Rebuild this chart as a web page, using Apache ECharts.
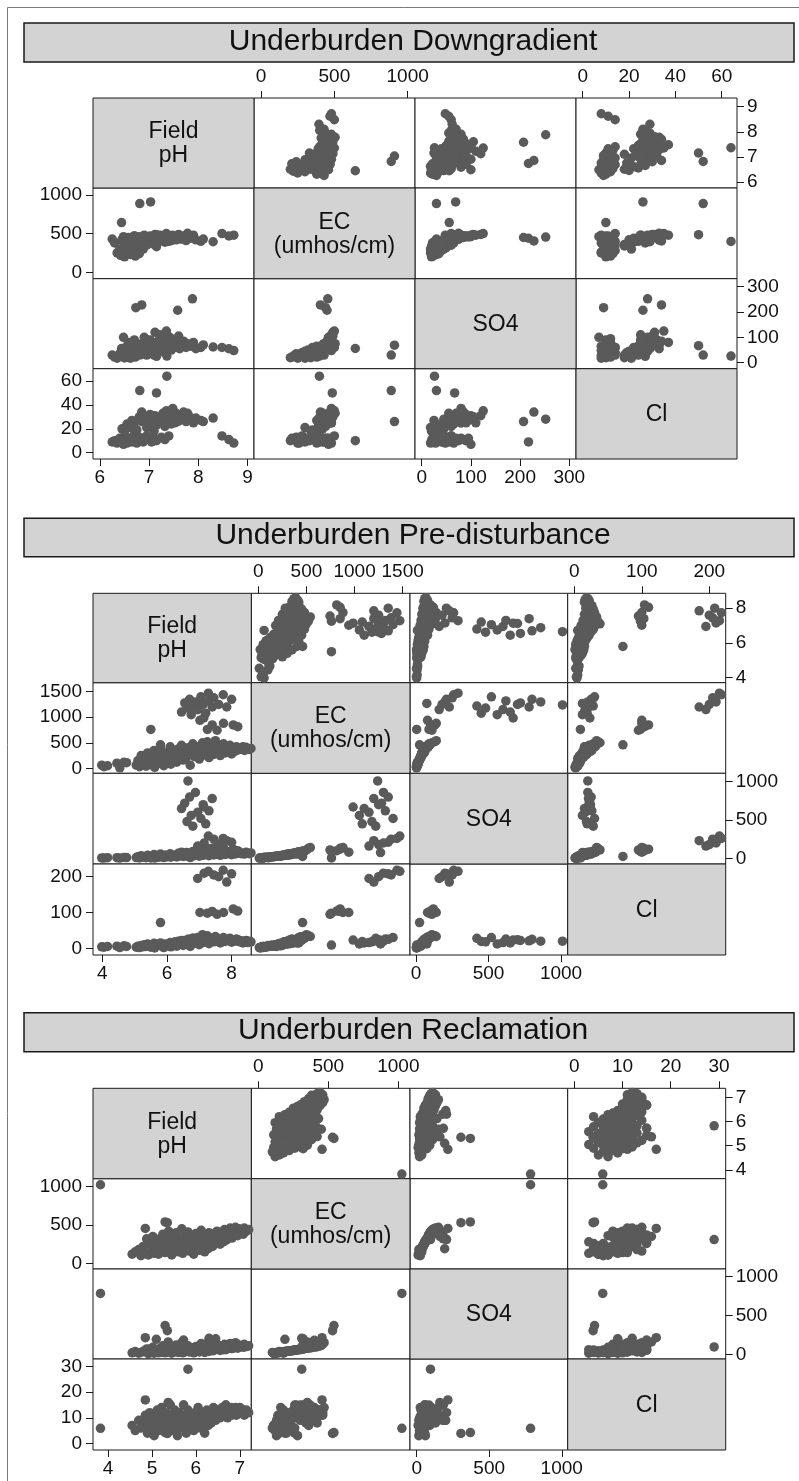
<!DOCTYPE html>
<html>
<head>
<meta charset="utf-8">
<script src="https://cdn.jsdelivr.net/npm/echarts@6/dist/echarts.min.js"></script>
<style>
  html, body { margin: 0; padding: 0; background: #ffffff; }
  #chart { width: 799px; height: 1481px; }
</style>
</head>
<body>
<div id="chart"></div>
<script>
// Variable names shown on the diagonal of every matrix
const variableLabels = ['Field\npH', 'EC\n(umhos/cm)', 'SO4', 'Cl'];

// ---------- Underburden Downgradient ----------
const dgPH = [
  6.25,6.30,6.35,6.40,6.42,6.45,6.50,6.52,6.55,6.58,
  6.62,6.65,6.68,6.70,6.72,6.75,6.78,6.80,6.85,6.88,
  6.92,6.95,7.00,7.05,7.10,7.15,7.25,7.32,7.40,6.48,
  6.45,6.55,6.60,6.65,6.70,6.75,6.80,6.85,6.90,6.95,
  7.00,7.02,7.05,7.08,7.10,7.12,7.15,7.18,7.20,7.22,
  7.25,7.28,7.30,7.32,7.35,7.38,7.40,7.42,7.45,7.48,
  7.50,7.52,7.55,7.60,7.62,7.65,7.70,7.75,7.80,7.85,
  7.90,7.95,8.05,8.30,6.50,6.62,7.78,8.10,7.36,6.81,
  7.15,7.03,6.44,7.88,6.85,6.73,7.58,8.72,8.62,8.48
];
const dgEC = [
  430,380,250,300,220,420,200,350,260,450,
  230,400,280,470,210,380,320,240,430,300,
  460,350,420,380,440,330,410,450,400,460,
  420,400,440,380,470,350,460,420,480,390,
  450,470,410,440,360,490,430,460,400,480,
  440,420,460,390,500,450,430,470,410,480,
  440,460,420,490,450,430,470,410,460,440,
  480,420,400,395,340,300,505,430,398,888,
  486,910,643,455,405,440,450,480,470,500
];
const dgSO4 = [
  30,22,18,35,25,45,20,60,28,80,
  30,55,40,90,22,65,50,35,75,45,
  95,30,55,40,70,25,50,85,60,100,
  45,30,60,25,80,40,70,55,100,35,
  65,90,50,75,30,120,60,85,45,110,
  70,55,95,40,125,75,65,100,50,80,
  60,90,70,105,55,75,85,60,70,65,
  80,55,60,62,20,18,75,70,26,30,
  67,69,56,252,228,217,207,48,55,60
];
const dgCl = [
  9,10,8,12,11,9,10,13,8,12,
  11,9,14,10,12,8,11,13,10,9,
  12,14,11,9,12,10,13,11,14,7,
  20,24,22,27,25,19,30,26,28,21,
  24,32,27,29,18,31,23,26,28,25,
  30,33,27,22,35,26,29,31,24,37,
  28,25,33,30,27,29,34,26,31,28,
  25,29,27,29,18,21,33,26,64,52,
  50,26,10,28,34,9,26,8,11,14
];
const dgPHTicks = [6, 7, 8, 9];
const dgECTicks = [0, 500, 1000];
const dgSO4Ticks = [0, 100, 200, 300];
const dgClTicks = [0, 20, 40, 60];

// ---------- Underburden Pre-disturbance ----------
const pdPH = [
  // acidic samples
  3.98,4.05,4.16,4.45,4.54,4.67,4.75,
  // main group
  5.05,5.10,5.15,5.20,5.25,5.30,5.35,5.40,5.45,5.50,
  5.55,5.60,5.62,5.65,5.70,5.75,5.80,5.85,5.90,5.95,
  6.00,6.05,6.10,6.12,6.15,6.20,6.25,6.30,6.35,6.40,
  6.45,6.50,6.55,6.60,6.65,6.70,6.72,6.75,6.80,6.85,
  6.90,6.95,7.00,7.05,7.10,7.12,7.15,7.20,7.25,7.28,
  7.30,7.35,7.40,7.45,7.50,7.55,7.60,7.65,7.70,7.75,
  7.80,7.85,7.90,7.95,8.00,8.05,8.10,8.15,8.20,8.25,
  8.30,8.35,8.40,8.45,8.50,8.55,8.60,
  // chloride near 100
  7.25,7.40,7.55,7.75,8.05,8.19,7.02,
  // chloride near 200
  6.95,7.15,7.28,7.45,7.60,7.74,7.85,8.00,
  // high sulfate
  6.45,6.55,6.62,6.70,6.75,6.80,6.88,6.95,7.05,7.12,
  7.20,7.30,7.40,7.14,6.65,
  // others
  5.50,5.80,6.60
];
const pdEC = [
  60,30,50,100,10,120,110,
  60,150,30,250,90,180,40,300,120,70,
  220,350,20,160,260,100,400,190,50,300,
  140,230,420,80,330,200,270,120,380,240,
  450,160,310,210,400,280,60,350,480,230,
  320,420,180,370,500,260,440,300,520,350,
  210,460,390,270,540,330,430,250,380,480,
  300,410,350,450,280,390,330,420,360,400,
  380,420,350,410,380,370,390,
  760,850,745,880,850,815,940,
  1150,1300,1470,1380,1250,1440,1200,1350,
  1100,1280,1180,1350,1050,1220,1300,1150,1400,1250,
  1080,1320,1200,985,1240,
  760,460,1270
];
const pdSO4 = [
  5,3,8,8,4,12,10,
  10,20,5,35,15,25,8,40,18,12,
  30,50,4,22,38,15,55,28,10,42,
  20,35,60,14,45,30,40,18,65,32,
  80,25,50,30,70,45,10,55,90,35,
  60,75,28,65,110,40,85,55,130,60,
  35,95,70,45,140,55,80,40,65,100,
  50,75,60,90,48,70,55,85,65,75,
  60,70,55,80,65,60,70,
  90,130,110,140,120,100,80,
  160,200,290,250,180,260,230,210,
  650,720,480,800,560,420,860,600,520,700,
  450,620,780,670,1010,
  5,25,75
];
const pdCl = [
  4,3,5,6,2,7,5,
  3,6,2,8,4,10,5,12,7,3,
  9,14,1,6,11,8,15,5,2,12,
  9,7,16,4,13,10,18,6,20,11,
  22,8,15,12,25,17,5,19,28,14,
  21,30,10,24,38,16,32,20,35,26,
  13,29,22,18,33,24,27,15,21,30,
  19,25,23,28,17,22,20,26,24,18,
  21,15,19,22,16,20,18,
  98,103,95,100,110,104,100,
  195,210,215,205,200,218,185,208,
  15,22,18,25,12,28,20,16,30,24,
  19,26,21,23,20,
  9,72,12
];
const pdPHTicks = [4, 6, 8];
const pdECTicks = [0, 500, 1000, 1500];
const pdSO4Ticks = [0, 500, 1000];
const pdClTicks = [0, 100, 200];

// ---------- Underburden Reclamation ----------
const rcPH = [
  4.55,4.62,4.70,4.75,4.80,4.85,4.90,4.92,4.95,5.00,
  5.02,5.05,5.08,5.10,5.12,5.15,5.18,5.20,5.22,5.25,
  5.28,5.30,5.32,5.35,5.38,5.40,5.42,5.45,5.48,5.50,
  5.52,5.55,5.58,5.60,5.62,5.65,5.68,5.70,5.72,5.75,
  5.78,5.80,5.82,5.85,5.88,5.90,5.92,5.95,5.98,6.00,
  6.02,6.05,6.08,6.10,6.12,6.15,6.18,6.20,6.22,6.25,
  6.28,6.30,6.32,6.35,6.38,6.40,6.42,6.45,6.48,6.50,
  6.52,6.55,6.58,6.60,6.62,6.65,6.68,6.70,6.72,6.75,
  6.78,6.80,6.82,6.85,6.88,6.90,6.92,6.95,6.98,7.00,
  7.05,7.08,7.10,7.15,7.20,
  5.72,5.37,5.10,6.30,6.68,4.88,
  3.83,5.35,5.30,4.85,5.82
];
const rcEC = [
  120,150,180,100,220,140,260,110,300,170,
  350,130,240,190,280,120,320,210,160,380,
  250,140,300,200,420,170,260,110,340,230,
  180,400,280,150,320,210,450,130,270,360,
  190,240,410,160,300,220,350,120,280,390,
  200,330,170,260,430,230,310,150,370,250,
  190,400,290,340,220,380,270,320,420,300,
  360,250,400,330,280,440,370,310,420,350,
  460,390,330,440,380,470,410,360,450,400,
  430,380,460,420,440,
  320,350,190,310,300,320,
  1025,530,540,455,310
];
const rcSO4 = [
  20,35,15,25,40,30,55,10,70,25,
  90,15,45,30,60,20,75,40,25,110,
  50,20,65,35,130,30,55,15,80,45,
  30,120,60,25,70,40,150,20,55,90,
  35,50,110,30,65,45,85,20,60,100,
  40,75,30,55,140,45,70,25,95,50,
  35,180,60,80,45,100,55,200,120,65,
  90,50,110,75,60,130,85,70,100,80,
  140,90,75,110,85,150,95,80,120,100,
  110,90,130,100,110,
  184,160,193,206,60,70,
  785,305,370,215,95
];
const rcCl = [
  7,5,9,6,8,11,4,7,12,6,
  9,3,10,8,13,5,11,7,14,9,
  6,10,12,4,8,11,15,7,9,5,
  13,10,3,8,12,6,11,9,15,7,
  4,10,13,6,9,11,8,5,12,10,
  7,14,9,6,11,8,12,4,10,13,
  7,9,11,8,12,14,10,9,12,11,
  13,10,12,14,11,13,15,12,10,13,
  12,14,11,13,12,14,11,13,12,14,
  12,13,11,13,12,
  15,16,9,12,15,10,
  5.9,3.9,4.2,17,29
];
const rcPHTicks = [4, 5, 6, 7];
const rcECTicks = [0, 500, 1000];
const rcSO4Ticks = [0, 500, 1000];
const rcClTicks = [0, 10, 20, 30];

// ---------- layout of the three matrices ----------
const FONT = "'Liberation Sans', Arial, Helvetica, sans-serif";
const INK = '#1a1a1a';
const PANEL_FILL = '#d3d3d3';
const DOT = '#5a5a5a';

const panels = [
  {
    title: 'Underburden Downgradient',
    band: [23, 62], titleY: 41.5,
    cols: [93, 254, 415, 576, 737],
    rows: [98, 188, 278.7, 368.7, 459],
    values: [dgPH, dgEC, dgSO4, dgCl],
    ticks: [dgPHTicks, dgECTicks, dgSO4Ticks, dgClTicks],
    hRange: [[5.86, 9.13], [-48, 1050], [-13.6, 313.6], [-2.9, 66.6]],
    vRange: [[5.75, 9.35], [-83, 1090], [-23.7, 331.6], [-5.3, 70.3]]
  },
  {
    title: 'Underburden Pre-disturbance',
    band: [518.3, 556.7], titleY: 536,
    cols: [93, 251.3, 410, 567.7, 725.7],
    rows: [593.3, 682.7, 773.3, 864, 955],
    values: [pdPH, pdEC, pdSO4, pdCl],
    ticks: [pdPHTicks, pdECTicks, pdSO4Ticks, pdClTicks],
    hRange: [[3.71, 8.61], [-72.8, 1576], [-41, 1046], [-9.8, 224.3]],
    vRange: [[3.71, 8.86], [-98, 1676], [-74, 1110], [-18.7, 235.5]]
  },
  {
    title: 'Underburden Reclamation',
    band: [1012.7, 1051.7], titleY: 1031,
    cols: [93, 251.3, 410, 567.7, 725.7],
    rows: [1088.3, 1178.7, 1269, 1359, 1450],
    values: [rcPH, rcEC, rcSO4, rcCl],
    ticks: [rcPHTicks, rcECTicks, rcSO4Ticks, rcClTicks],
    hRange: [[3.66, 7.26], [-50, 1083], [-46, 1041], [-1.37, 31.4]],
    vRange: [[3.64, 7.37], [-74, 1104], [-60, 1099], [-2.6, 33]]
  }
];

const labelMargin = { top: 12, bottom: 9, left: 11, right: 10 };

function axisDef(dim, gridIndex, range, ticks, pos) {
  return {
    type: 'value',
    gridIndex: gridIndex,
    min: range[0],
    max: range[1],
    position: pos || (dim === 'x' ? 'bottom' : 'left'),
    show: !!pos,
    axisLine: { show: false, onZero: false },
    splitLine: { show: false },
    splitArea: { show: false },
    axisTick: {
      show: true, inside: false, length: 7,
      customValues: ticks,
      lineStyle: { color: INK, width: 1 }
    },
    axisLabel: {
      show: true,
      customValues: ticks,
      formatter: v => String(v),
      margin: pos ? labelMargin[pos] : 8,
      fontSize: 19,
      fontFamily: FONT,
      color: '#111111'
    }
  };
}

const grids = [], xAxes = [], yAxes = [], series = [];
const elements = [];

// outer frame of the figure
elements.push({
  type: 'rect', z: 0,
  shape: { x: 7.5, y: 7.5, width: 830, height: 1500 },
  style: { fill: null, stroke: '#7a7a7a', lineWidth: 1 }
});

panels.forEach(p => {
  // title band
  elements.push({
    type: 'rect', z: 1,
    shape: { x: 24, y: p.band[0], width: 770, height: p.band[1] - p.band[0] },
    style: { fill: PANEL_FILL, stroke: INK, lineWidth: 1.5 }
  });
  elements.push({
    type: 'text', z: 2,
    x: 413, y: p.titleY,
    style: {
      text: p.title, fontSize: 30, fontFamily: FONT, fill: '#111111',
      align: 'center', verticalAlign: 'middle'
    }
  });

  for (let r = 0; r < 4; r++) {
    for (let c = 0; c < 4; c++) {
      const left = p.cols[c], top = p.rows[r];
      const w = p.cols[c + 1] - left, h = p.rows[r + 1] - top;
      if (r === c) {
        elements.push({
          type: 'rect', z: 1,
          shape: { x: left, y: top, width: w, height: h },
          style: { fill: PANEL_FILL, stroke: INK, lineWidth: 1 }
        });
        elements.push({
          type: 'text', z: 2,
          x: left + w / 2, y: top + h / 2 + 1,
          style: {
            text: variableLabels[r], fontSize: 23, lineHeight: 24,
            fontFamily: FONT, fill: '#111111',
            align: 'center', verticalAlign: 'middle'
          }
        });
        continue;
      }
      const gi = grids.length;
      grids.push({
        left: left, top: top, width: w, height: h,
        show: true, borderColor: INK, borderWidth: 1,
        backgroundColor: '#ffffff', containLabel: false, outerBoundsMode: 'none'
      });
      let xPos = null, yPos = null;
      if (r === 0 && (c === 1 || c === 3)) xPos = 'top';
      if (r === 3 && (c === 0 || c === 2)) xPos = 'bottom';
      if (c === 0 && (r === 1 || r === 3)) yPos = 'left';
      if (c === 3 && (r === 0 || r === 2)) yPos = 'right';
      xAxes.push(axisDef('x', gi, p.hRange[c], p.ticks[c], xPos));
      yAxes.push(axisDef('y', gi, p.vRange[r], p.ticks[r], yPos));
      const xs = p.values[c], ys = p.values[r];
      series.push({
        type: 'scatter',
        xAxisIndex: gi, yAxisIndex: gi,
        data: xs.map((v, i) => [v, ys[i]]),
        symbol: 'circle', symbolSize: 9.5,
        itemStyle: { color: DOT, opacity: 1 },
        silent: true
      });
    }
  }
});

const chart = echarts.init(document.getElementById('chart'), null, {
  renderer: 'canvas', width: 799, height: 1481
});
chart.setOption({
  animation: false,
  backgroundColor: '#ffffff',
  grid: grids,
  xAxis: xAxes,
  yAxis: yAxes,
  series: series,
  graphic: { elements: elements }
});
</script>
</body>
</html>
